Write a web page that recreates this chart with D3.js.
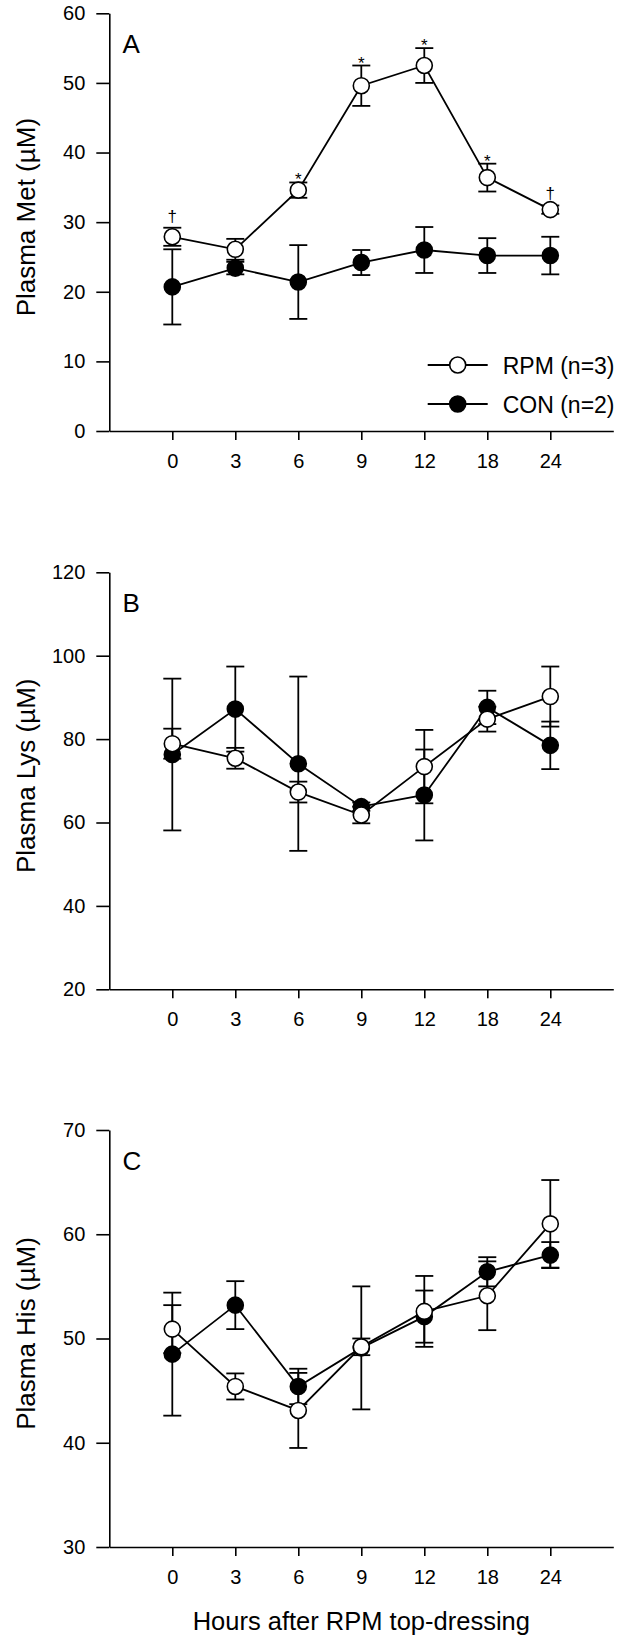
<!DOCTYPE html>
<html>
<head>
<meta charset="utf-8">
<script src="https://cdn.jsdelivr.net/npm/d3@7"></script>
<style>
  html, body { margin: 0; padding: 0; background: #fff; }
  svg { display: block; font-family: "Liberation Sans", Arial, sans-serif; }
</style>
</head>
<body>
<svg id="chart" width="619" height="1646"></svg>
<script>
// ---------- data ----------
const hours = ["0", "3", "6", "9", "12", "18", "24"];
const seriesNames = ["RPM (n=3)", "CON (n=2)"];

const metRPM   = [27.9, 26.1, 34.6, 49.6, 52.5, 36.4, 31.8];
const metRPMse = [1.3, 1.5, 1.1, 2.9, 2.5, 2.0, 0.6];
const metCON   = [20.7, 23.4, 21.4, 24.2, 26.0, 25.2, 25.2];
const metCONse = [5.4, 0.9, 5.3, 1.8, 3.3, 2.5, 2.7];
const metSig   = ["†", "", "*", "*", "*", "*", "†"];

const lysRPM   = [78.9, 75.4, 67.3, 61.8, 73.4, 84.8, 90.2];
const lysRPMse = [3.6, 2.5, 2.5, 2.0, 8.8, 3.0, 7.2];
const lysCON   = [76.3, 87.2, 74.1, 63.8, 66.6, 87.6, 78.5];
const lysCONse = [18.2, 10.2, 20.9, 1.0, 10.9, 4.0, 5.7];

const hisRPM   = [50.9, 45.4, 43.1, 49.2, 52.6, 54.1, 61.0];
const hisRPMse = [2.3, 1.25, 3.6, 0.8, 3.4, 3.3, 4.2];
const hisCON   = [48.5, 53.2, 45.4, 49.1, 52.1, 56.4, 58.0];
const hisCONse = [5.9, 2.3, 1.7, 5.9, 2.5, 1.4, 1.25];

const metTicks = [0, 10, 20, 30, 40, 50, 60];
const lysTicks = [20, 40, 60, 80, 100, 120];
const hisTicks = [30, 40, 50, 60, 70];

const xTitle = "Hours after RPM top-dressing";

// ---------- layout ----------
const svg = d3.select("#chart");
const left = 109.3, right = 613.3;
const x = d3.scaleLinear().domain([-1, 7]).range([left, right]);

const panels = [
  { letter: "A", title: "Plasma Met (µM)", ticks: metTicks, top: 13.3, bottom: 431,
    rpm: metRPM, rpmSe: metRPMse, con: metCON, conSe: metCONse, sig: metSig, legend: true },
  { letter: "B", title: "Plasma Lys (µM)", ticks: lysTicks, top: 572.3, bottom: 989.3,
    rpm: lysRPM, rpmSe: lysRPMse, con: lysCON, conSe: lysCONse },
  { letter: "C", title: "Plasma His (µM)", ticks: hisTicks, top: 1130, bottom: 1547,
    rpm: hisRPM, rpmSe: hisRPMse, con: hisCON, conSe: hisCONse }
];

const LW = 1.8, R = 8, CAP = 9;

panels.forEach(p => {
  const y = d3.scaleLinear()
    .domain([p.ticks[0], p.ticks[p.ticks.length - 1]])
    .range([p.bottom, p.top]);
  const g = svg.append("g");

  // axes
  const yAxis = d3.axisLeft(y).tickValues(p.ticks).tickSize(13).tickPadding(11).tickSizeOuter(0);
  const gy = g.append("g").attr("transform", `translate(${left},0)`).call(yAxis);
  const xAxis = d3.axisBottom(x).tickValues(d3.range(hours.length))
    .tickFormat(i => hours[i]).tickSize(9).tickPadding(14).tickSizeOuter(0);
  const gx = g.append("g").attr("transform", `translate(0,${p.bottom})`).call(xAxis);
  [gx, gy].forEach(a => {
    a.selectAll("path, line").attr("stroke", "#000").attr("stroke-width", 1.6);
    a.selectAll("text").attr("font-size", 20).attr("fill", "#000")
      .attr("font-family", "'Liberation Sans', Arial, sans-serif");
  });

  // y title
  g.append("text")
    .attr("transform", `translate(35,${(p.top + p.bottom) / 2 - 5}) rotate(-90)`)
    .attr("text-anchor", "middle").attr("font-size", 26).attr("fill", "#000")
    .text(p.title);

  // panel letter
  g.append("text").attr("x", 122.5).attr("y", p.top + 39.5)
    .attr("font-size", 26).attr("fill", "#000").text(p.letter);

  const series = [
    { vals: p.con, se: p.conSe, fill: "#000" },
    { vals: p.rpm, se: p.rpmSe, fill: "#fff" }
  ];

  // error bars
  series.forEach(s => {
    const eg = g.append("g").attr("stroke", "#000").attr("stroke-width", LW);
    s.vals.forEach((v, i) => {
      const cx = x(i), y1 = y(v + s.se[i]), y2 = y(v - s.se[i]);
      eg.append("line").attr("x1", cx).attr("x2", cx).attr("y1", y1).attr("y2", y2);
      eg.append("line").attr("x1", cx - CAP).attr("x2", cx + CAP).attr("y1", y1).attr("y2", y1);
      eg.append("line").attr("x1", cx - CAP).attr("x2", cx + CAP).attr("y1", y2).attr("y2", y2);
    });
  });

  // lines + markers
  const line = d3.line().x((d, i) => x(i)).y(d => y(d));
  series.forEach(s => {
    g.append("path").datum(s.vals).attr("d", line)
      .attr("fill", "none").attr("stroke", "#000").attr("stroke-width", LW);
  });
  series.forEach(s => {
    g.append("g").selectAll("circle").data(s.vals).join("circle")
      .attr("cx", (d, i) => x(i)).attr("cy", d => y(d)).attr("r", R)
      .attr("fill", s.fill).attr("stroke", "#000").attr("stroke-width", 1.6);
  });

  // significance marks
  if (p.sig) {
    g.append("g").selectAll("text").data(p.sig).join("text")
      .attr("x", (d, i) => x(i))
      .attr("y", (d, i) => y(p.rpm[i] + p.rpmSe[i]) + (d === "*" ? 3 : -6))
      .attr("text-anchor", "middle").attr("font-size", 17).attr("fill", "#000")
      .text(d => d);
  }

  // legend
  if (p.legend) {
    const lg = g.append("g");
    const rows = [
      { name: seriesNames[0], fill: "#fff", yy: 365 },
      { name: seriesNames[1], fill: "#000", yy: 404 }
    ];
    rows.forEach(r => {
      lg.append("line").attr("x1", 427.7).attr("x2", 487.7).attr("y1", r.yy).attr("y2", r.yy)
        .attr("stroke", "#000").attr("stroke-width", LW);
      lg.append("circle").attr("cx", 457.7).attr("cy", r.yy).attr("r", R)
        .attr("fill", r.fill).attr("stroke", "#000").attr("stroke-width", 1.6);
      lg.append("text").attr("x", 502.7).attr("y", r.yy + 8.5)
        .attr("font-size", 23).attr("fill", "#000").text(r.name);
    });
  }
});

// x title
svg.append("text").attr("x", (left + right) / 2).attr("y", 1630)
  .attr("text-anchor", "middle").attr("font-size", 25.5).attr("fill", "#000")
  .text(xTitle);
</script>
</body>
</html>
